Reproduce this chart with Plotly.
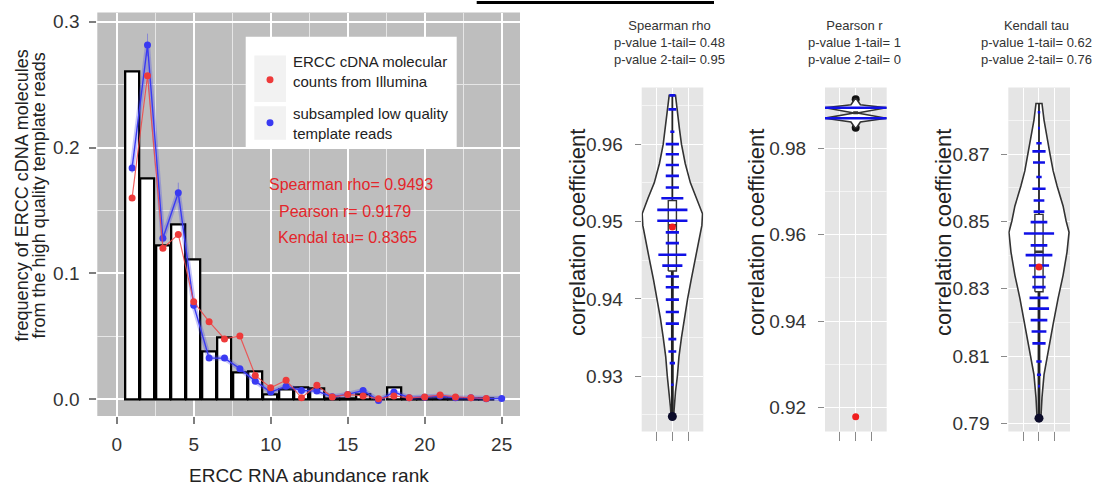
import plotly.graph_objects as go

W, H = 1105, 494
FONT = "Liberation Sans, Arial, Helvetica, sans-serif"

# ---------------- left panel data ----------------
bar_rank = list(range(1, 25))
bar_freq = [0.260, 0.175, 0.122, 0.139, 0.111, 0.038, 0.049, 0.0216, 0.0221, 0.004,
            0.0076, 0.0094, 0.0087, 0.001, 0.001, 0.004, 0.0, 0.0094, 0.001, 0.001,
            0.001, 0.001, 0.001, 0.001]

illumina_rank = list(range(1, 25))
illumina_freq = [0.160, 0.257, 0.120, 0.131, 0.0775, 0.0617, 0.048, 0.0504, 0.019, 0.0092,
                 0.0153, 0.0013, 0.0113, 0.0019, 0.004, 0.0027, 0.0005, 0.0027, 0.0013, 0.002,
                 0.0035, 0.002, 0.0013, 0.0008]

subsampled_rank = list(range(1, 26))
subsampled_freq = [0.1838, 0.2814, 0.1279, 0.1641, 0.0748, 0.0328, 0.0328, 0.0244, 0.0145, 0.0058,
                   0.0105, 0.0071, 0.0066, 0.0021, 0.004, 0.0071, -0.0008, 0.0058, 0.0013, 0.0018,
                   0.0027, 0.0013, 0.0013, 0.0005, 0.0008]
subsampled_spread = [0.004, 0.009, 0.004, 0.008, 0.003, 0.002, 0.002, 0.002, 0.002, 0.001,
                     0.001, 0.001, 0.001, 0.001, 0.001, 0.001, 0.001, 0.001, 0.001, 0.001,
                     0.001, 0.001, 0.001, 0.001, 0.001]

stat_text = ["Spearman rho= 0.9493", "Pearson r= 0.9179", "Kendal tau= 0.8365"]
legend_text = ["ERCC cDNA molecular<br>counts from Illumina",
               "subsampled low quality<br>template reads"]

# ---------------- right panels data ----------------
spearman_obs = 0.9493
pearson_obs = 0.9179
kendall_obs = 0.8365

# violin outline: level -> half width (in category units)
spearman_levels = [0.9248, 0.9260, 0.9280, 0.9300, 0.9325, 0.9350, 0.9375, 0.9400, 0.9425, 0.9450,
                   0.9475, 0.9495, 0.9510, 0.9530, 0.9550, 0.9575, 0.9600, 0.9620, 0.9645, 0.9663]
spearman_width = [0.08, 0.12, 0.20, 0.32, 0.42, 0.58, 0.76, 0.97, 1.20, 1.45,
                  1.70, 1.88, 1.92, 1.55, 1.15, 0.82, 0.58, 0.45, 0.30, 0.20]
spearman_rug = [0.9289, 0.9317, 0.9332, 0.9348, 0.9368, 0.9383, 0.9399, 0.9415, 0.9429, 0.9443,
                0.9457, 0.9472, 0.9486, 0.9501, 0.9515, 0.9530, 0.9544, 0.9559, 0.9573, 0.9587,
                0.9600, 0.9616, 0.9645, 0.9663]
spearman_rug_w = [0.08, 0.17, 0.25, 0.25, 0.42, 0.42, 0.42, 0.42, 0.42, 0.64,
                  0.89, 0.42, 0.42, 0.96, 0.96, 0.70, 0.42, 0.42, 0.42, 0.42,
                  0.42, 0.13, 0.25, 0.19]
spearman_box = [0.9248, 0.9436, 0.9495, 0.9527, 0.9663]   # min, q1, median, q3, max

pearson_levels = [0.9847, 0.9860, 0.9869, 0.9881, 0.9893, 0.9900, 0.9913]
pearson_width = [0.05, 0.30, 1.95, 0.10, 1.95, 0.30, 0.05]
pearson_rug = [0.9869, 0.9893]
pearson_rug_w = [1.98, 1.98]
pearson_range = [0.9847, 0.9913]

kendall_levels = [0.7916, 0.7977, 0.8045, 0.8114, 0.8193, 0.8271, 0.8340, 0.8409, 0.8468, 0.8502,
                  0.8546, 0.8605, 0.8650, 0.8700, 0.8750, 0.8801, 0.8850]
kendall_width = [0.12, 0.19, 0.32, 0.57, 0.89, 1.21, 1.53, 1.78, 1.91, 1.72,
                 1.53, 1.15, 0.90, 0.70, 0.50, 0.32, 0.19]
kendall_rug = [0.8011, 0.8045, 0.8084, 0.8138, 0.8173, 0.8207, 0.8241, 0.8273, 0.8305, 0.8335,
               0.8369, 0.8400, 0.8429, 0.8464, 0.8498, 0.8529, 0.8562, 0.8597, 0.8632, 0.8675,
               0.8708, 0.8732, 0.8777, 0.8824]
kendall_rug_w = [0.06, 0.13, 0.17, 0.42, 0.47, 0.53, 0.64, 0.60, 0.42, 0.42,
                 0.64, 0.85, 0.53, 0.96, 0.53, 0.34, 0.34, 0.42, 0.17, 0.38,
                 0.42, 0.17, 0.06, 0.08]
kendall_box = [0.7916, 0.8291, 0.8410, 0.8521, 0.8850]

panel_titles = ["Spearman rho<br>p-value 1-tail= 0.48<br>p-value 2-tail= 0.95",
                "Pearson r<br>p-value 1-tail= 1<br>p-value 2-tail= 0",
                "Kendall tau<br>p-value 1-tail= 0.62<br>p-value 2-tail= 0.76"]
y_title = "correlation coefficient"


def px(x):
    return x / W


def py(y):
    return 1 - y / H


RED = "#ee3a3a"
BLUE = "#3a3af2"
RUG_BLUE = "#1010e6"

fig = go.Figure()

# ---- left panel: histogram bars and the two frequency curves ----
fig.add_trace(go.Bar(x=bar_rank, y=bar_freq, width=0.9,
                     marker=dict(color="white", line=dict(color="black", width=2.3)),
                     xaxis="x", yaxis="y", hoverinfo="skip"))
fig.add_trace(go.Scatter(x=subsampled_rank, y=subsampled_freq, mode="lines",
                         line=dict(color="rgba(70,70,235,0.30)", width=5),
                         xaxis="x", yaxis="y", hoverinfo="skip"))
fig.add_trace(go.Scatter(x=subsampled_rank, y=subsampled_freq, mode="lines+markers",
                         line=dict(color=BLUE, width=1.4),
                         marker=dict(color=BLUE, size=7),
                         error_y=dict(type="data", array=subsampled_spread, visible=True,
                                      color="rgba(70,70,235,0.45)", thickness=1, width=0),
                         xaxis="x", yaxis="y"))
fig.add_trace(go.Scatter(x=illumina_rank, y=illumina_freq, mode="lines+markers",
                         line=dict(color="rgba(240,70,70,0.85)", width=1.2),
                         marker=dict(color=RED, size=7),
                         xaxis="x", yaxis="y"))


def add_violin(xa, ya, levels, widths, rug, rug_w, obs, box=None):
    cx = 2
    xs = [cx + w for w in widths] + [cx - w for w in reversed(widths)] + [cx + widths[0]]
    ys = list(levels) + list(reversed(levels)) + [levels[0]]
    fig.add_trace(go.Scatter(x=xs, y=ys, mode="lines", fill="toself", fillcolor="white",
                             line=dict(color="#333333", width=1.6),
                             xaxis=xa, yaxis=ya, hoverinfo="skip"))
    if box is not None:
        mn, q1, med, q3, mx = box
        hw = 0.26
        fig.add_trace(go.Scatter(x=[cx, cx], y=[mn, q1], mode="lines",
                                 line=dict(color="#222222", width=2.8),
                                 xaxis=xa, yaxis=ya, hoverinfo="skip"))
        fig.add_trace(go.Scatter(x=[cx, cx], y=[q3, mx], mode="lines",
                                 line=dict(color="#222222", width=1.8),
                                 xaxis=xa, yaxis=ya, hoverinfo="skip"))
        fig.add_trace(go.Scatter(x=[cx - hw, cx + hw, cx + hw, cx - hw, cx - hw],
                                 y=[q1, q1, q3, q3, q1], mode="lines",
                                 line=dict(color="#333333", width=1.4),
                                 xaxis=xa, yaxis=ya, hoverinfo="skip"))
        fig.add_trace(go.Scatter(x=[cx - hw, cx + hw], y=[med, med], mode="lines",
                                 line=dict(color="#333333", width=2.6),
                                 xaxis=xa, yaxis=ya, hoverinfo="skip"))
        fig.add_trace(go.Scatter(x=[cx], y=[mn], mode="markers",
                                 marker=dict(color="#0c0c2a", size=9),
                                 xaxis=xa, yaxis=ya, hoverinfo="skip"))
    rx, ry = [], []
    for v, w in zip(rug, rug_w):
        rx += [cx - w, cx + w, None]
        ry += [v, v, None]
    fig.add_trace(go.Scatter(x=rx, y=ry, mode="lines", line=dict(color=RUG_BLUE, width=2.6),
                             xaxis=xa, yaxis=ya, hoverinfo="skip"))
    fig.add_trace(go.Scatter(x=[cx], y=[obs], mode="markers",
                             marker=dict(color="#f01e1e", size=7),
                             xaxis=xa, yaxis=ya))


add_violin("x2", "y2", spearman_levels, spearman_width, spearman_rug, spearman_rug_w,
           spearman_obs, spearman_box)

# Pearson: narrow two-mode violin with a thick stem
fig.add_trace(go.Scatter(x=[2, 2], y=pearson_range, mode="lines+markers",
                         line=dict(color="#111111", width=5),
                         marker=dict(color="#111111", size=8),
                         xaxis="x3", yaxis="y3", hoverinfo="skip"))
add_violin("x3", "y3", pearson_levels, pearson_width, pearson_rug, pearson_rug_w,
           pearson_obs, None)
fig.add_trace(go.Scatter(x=[2, 2], y=[0.9878, 0.9885], mode="lines",
                         line=dict(color="#333333", width=5),
                         xaxis="x3", yaxis="y3", hoverinfo="skip"))

add_violin("x4", "y4", kendall_levels, kendall_width, kendall_rug, kendall_rug_w,
           kendall_obs, kendall_box)

# ---------------- axes ----------------
tick_font = dict(family=FONT, size=19, color="#333333")

left_x = dict(domain=[px(97.3), px(520)], range=[-1.26, 26.19], anchor="y",
              tickmode="linear", tick0=0, dtick=5, showgrid=True, gridcolor="white", gridwidth=2,
              minor=dict(dtick=2.5, tick0=0, showgrid=True, gridcolor="#e6e6e6", gridwidth=1),
              ticks="outside", ticklen=7, tickwidth=1.5, tickcolor="#7f7f7f",
              tickfont=tick_font, ticklabelstandoff=4, zeroline=False, showline=False)
left_y = dict(domain=[py(418.3), py(11.7)], range=[-0.0131, 0.3071], anchor="x",
              tickmode="linear", tick0=0, dtick=0.1, tickformat=".1f",
              showgrid=True, gridcolor="white", gridwidth=2,
              minor=dict(dtick=0.05, tick0=0, showgrid=True, gridcolor="#e6e6e6", gridwidth=1),
              ticks="outside", ticklen=7, tickwidth=1.5, tickcolor="#7f7f7f",
              tickfont=tick_font, ticklabelstandoff=6, zeroline=False, showline=False)


def right_axes(xdom, yrange, dtick, tick0, minor_dtick, anchor_x, anchor_y):
    xa = dict(domain=[px(xdom[0]), px(xdom[1])], range=[0.05, 3.97], anchor=anchor_y,
              tickmode="array", tickvals=[1, 2, 3], showticklabels=False,
              showgrid=True, gridcolor="white", gridwidth=1.2,
              ticks="outside", ticklen=9, tickwidth=1.3, tickcolor="#8a8a8a",
              zeroline=False, showline=False)
    ya = dict(domain=[py(434), py(87.3)], range=yrange, anchor=anchor_x,
              tickmode="linear", tick0=tick0, dtick=dtick, tickformat=".2f",
              showgrid=True, gridcolor="white", gridwidth=1.3,
              minor=dict(dtick=minor_dtick, tick0=tick0, showgrid=True,
                         gridcolor="#f4f4f4", gridwidth=0.8),
              ticks="outside", ticklen=6, tickwidth=1.3, tickcolor="#8a8a8a",
              tickfont=tick_font, ticklabelstandoff=8, zeroline=False, showline=False)
    return xa, ya


x2, y2 = right_axes([641.7, 703.3], [0.92286, 0.96731], 0.01, 0.93, 0.005, "x2", "y2")
x3, y3 = right_axes([825, 886.7], [0.9145, 0.99397], 0.02, 0.92, 0.01, "x3", "y3")
x4, y4 = right_axes([1008.3, 1070], [0.78764, 0.88973], 0.02, 0.79, 0.01, "x4", "y4")

shapes = [
    # plot backgrounds
    dict(type="rect", xref="paper", yref="paper", layer="below",
         x0=px(97.3), x1=px(520), y0=py(418.3), y1=py(11.7),
         fillcolor="#bebebe", line=dict(width=0)),
]
for x0, x1 in [(641.7, 703.3), (825, 886.7), (1008.3, 1070)]:
    shapes.append(dict(type="rect", xref="paper", yref="paper", layer="below",
                       x0=px(x0), x1=px(x1), y0=py(434), y1=py(87.3),
                       fillcolor="#e5e5e5", line=dict(width=0)))
# legend box and keys
shapes += [
    dict(type="rect", xref="paper", yref="paper", x0=px(245.7), x1=px(456.7),
         y0=py(149), y1=py(36), fillcolor="white", line=dict(width=0)),
    dict(type="rect", xref="paper", yref="paper", x0=px(254.3), x1=px(286),
         y0=py(101.7), y1=py(55), fillcolor="#f2f2f2", line=dict(width=0)),
    dict(type="rect", xref="paper", yref="paper", x0=px(254.3), x1=px(286),
         y0=py(140), y1=py(106), fillcolor="#f2f2f2", line=dict(width=0)),
    dict(type="circle", xref="paper", yref="paper", x0=px(266.5), x1=px(273.5),
         y0=py(82.8), y1=py(75.8), fillcolor=RED, line=dict(width=0)),
    dict(type="circle", xref="paper", yref="paper", x0=px(266.5), x1=px(273.5),
         y0=py(126.2), y1=py(119.2), fillcolor=BLUE, line=dict(width=0)),
    # black strip at the top edge
    dict(type="rect", xref="paper", yref="paper", x0=px(476.7), x1=px(714),
         y0=py(3), y1=1, fillcolor="black", line=dict(width=0)),
]

annotations = [
    dict(text="ERCC RNA abundance rank", x=px(309), y=py(478), xref="paper", yref="paper",
         showarrow=False, xanchor="center", yanchor="middle",
         font=dict(family=FONT, size=19, color="#222222")),
    dict(text="frequency of ERCC cDNA molecules", x=px(22), y=py(196), xref="paper",
         yref="paper", showarrow=False, textangle=-90, xanchor="center", yanchor="middle",
         font=dict(family=FONT, size=18, color="#222222")),
    dict(text="from the high quality template reads", x=px(39), y=py(196), xref="paper",
         yref="paper", showarrow=False, textangle=-90, xanchor="center", yanchor="middle",
         font=dict(family=FONT, size=18, color="#222222")),
]
for xc in [577, 756, 943]:
    annotations.append(dict(text=y_title, x=px(xc), y=py(233), xref="paper", yref="paper",
                            showarrow=False, textangle=-90, xanchor="center", yanchor="middle",
                            font=dict(family=FONT, size=22, color="#222222")))
for txt, yc in zip(legend_text, [70.8, 123.5]):
    annotations.append(dict(text=txt, x=px(291), y=py(yc), xref="paper", yref="paper",
                            showarrow=False, xanchor="left", yanchor="middle", align="left",
                            font=dict(family=FONT, size=15, color="#222222")))
for txt, xc, yc in zip(stat_text, [351.3, 345.2, 347], [185, 212.3, 238.3]):
    annotations.append(dict(text=txt, x=px(xc), y=py(yc), xref="paper", yref="paper",
                            showarrow=False, xanchor="center", yanchor="middle",
                            font=dict(family=FONT, size=16, color="#e3262b")))
for txt, xc in zip(panel_titles, [669, 854, 1036.5]):
    annotations.append(dict(text=txt, x=px(xc), y=py(42), xref="paper", yref="paper",
                            showarrow=False, xanchor="center", yanchor="middle",
                            font=dict(family=FONT, size=13, color="#333333")))

fig.update_layout(
    width=W, height=H, margin=dict(l=0, r=0, t=0, b=0),
    paper_bgcolor="white", plot_bgcolor="rgba(0,0,0,0)",
    showlegend=False, bargap=0,
    font=dict(family=FONT),
    xaxis=left_x, yaxis=left_y,
    xaxis2=x2, yaxis2=y2, xaxis3=x3, yaxis3=y3, xaxis4=x4, yaxis4=y4,
    shapes=shapes, annotations=annotations,
)

fig.write_html("out.html")
